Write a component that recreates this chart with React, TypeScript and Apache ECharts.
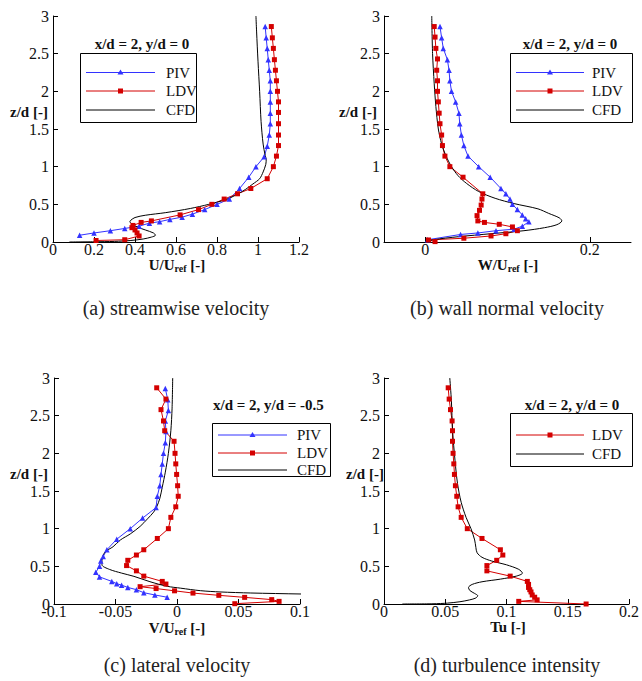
import React, { useEffect, useRef } from 'react';
import * as echarts from 'echarts';

const FONT = "'Liberation Serif', 'Times New Roman', Times, serif";
const BLUE = '#3333ff';
const RED = '#d40000';

// Panel (a) streamwise velocity  (x = U/Uref, z = z/d)
const aPivX = [0.13, 0.20, 0.28, 0.35, 0.42, 0.47, 0.52, 0.57, 0.63, 0.68, 0.74, 0.80, 0.86, 0.91, 0.955, 0.99, 1.03, 1.045, 1.055, 1.06, 1.06, 1.06, 1.06, 1.06, 1.055, 1.05, 1.045, 1.04, 1.035];
const aPivZ = [0.09, 0.12, 0.15, 0.18, 0.21, 0.25, 0.27, 0.30, 0.33, 0.37, 0.43, 0.50, 0.57, 0.71, 0.86, 1.0, 1.13, 1.27, 1.42, 1.57, 1.71, 1.86, 2.0, 2.14, 2.28, 2.42, 2.57, 2.71, 2.86];
const aLdvX = [0.21, 0.35, 0.42, 0.41, 0.40, 0.385, 0.39, 0.43, 0.48, 0.62, 0.71, 0.775, 0.835, 0.90, 0.965, 1.045, 1.075, 1.09, 1.10, 1.10, 1.10, 1.10, 1.10, 1.095, 1.09, 1.085, 1.08, 1.075, 1.07, 1.065];
const aLdvZ = [0.02, 0.03, 0.08, 0.12, 0.16, 0.19, 0.22, 0.26, 0.28, 0.36, 0.43, 0.50, 0.57, 0.64, 0.71, 0.84, 1.0, 1.14, 1.28, 1.42, 1.57, 1.72, 1.86, 2.0, 2.14, 2.28, 2.42, 2.57, 2.71, 2.86];
const aCfdX = [0.08, 0.2, 0.3, 0.38, 0.44, 0.48, 0.50, 0.49, 0.45, 0.41, 0.385, 0.375, 0.38, 0.40, 0.45, 0.55, 0.67, 0.76, 0.84, 0.89, 0.94, 0.975, 1.008, 1.025, 1.038, 1.04, 1.035, 1.025, 1.015, 1.008, 1.0, 0.993, 0.99];
const aCfdZ = [0.0, 0.003, 0.008, 0.02, 0.04, 0.065, 0.09, 0.12, 0.16, 0.2, 0.24, 0.27, 0.29, 0.325, 0.355, 0.39, 0.445, 0.5, 0.56, 0.62, 0.7, 0.77, 0.84, 0.93, 1.03, 1.1, 1.15, 1.3, 1.6, 2.0, 2.4, 2.8, 3.0];

// Panel (b) wall normal velocity (x = W/Uref)
const bPivX = [0.003, 0.043, 0.064, 0.086, 0.108, 0.118, 0.126, 0.122, 0.118, 0.112, 0.106, 0.103, 0.098, 0.092, 0.079, 0.065, 0.052, 0.047, 0.044, 0.042, 0.041, 0.037, 0.032, 0.030, 0.029, 0.027, 0.022, 0.020, 0.018];
const bPivZ = [0.03, 0.10, 0.12, 0.15, 0.17, 0.21, 0.27, 0.31, 0.36, 0.43, 0.50, 0.57, 0.64, 0.71, 0.86, 1.0, 1.14, 1.28, 1.42, 1.57, 1.71, 1.86, 2.0, 2.14, 2.28, 2.42, 2.57, 2.71, 2.86];
const bLdvX = [0.012, 0.004, 0.047, 0.08, 0.098, 0.112, 0.106, 0.09, 0.072, 0.064, 0.063, 0.066, 0.068, 0.069, 0.070, 0.046, 0.030, 0.024, 0.021, 0.020, 0.018, 0.017, 0.016, 0.015, 0.015, 0.014, 0.015, 0.013, 0.012, 0.011];
const bLdvZ = [0.005, 0.027, 0.05, 0.08, 0.11, 0.15, 0.20, 0.235, 0.26, 0.28, 0.35, 0.42, 0.49, 0.57, 0.64, 0.86, 1.0, 1.14, 1.28, 1.42, 1.57, 1.71, 1.86, 2.0, 2.14, 2.28, 2.43, 2.57, 2.72, 2.86];
const bCfdX = [0.0, 0.01, 0.04, 0.08, 0.12, 0.145, 0.16, 0.166, 0.163, 0.15, 0.137, 0.108, 0.085, 0.065, 0.05, 0.04, 0.032, 0.025, 0.02, 0.016, 0.013, 0.011, 0.009, 0.008];
const bCfdZ = [0.0, 0.03, 0.07, 0.11, 0.15, 0.19, 0.23, 0.28, 0.32, 0.38, 0.44, 0.51, 0.58, 0.67, 0.78, 0.88, 1.0, 1.15, 1.3, 1.5, 1.8, 2.1, 2.5, 3.0];

// Panel (c) lateral velocity (x = V/Uref)
const cPivX = [-0.008, -0.018, -0.027, -0.033, -0.04, -0.045, -0.049, -0.053, -0.063, -0.066, -0.063, -0.062, -0.06, -0.057, -0.049, -0.038, -0.028, -0.017, -0.016, -0.014, -0.013, -0.012, -0.011, -0.0095, -0.009, -0.0095, -0.007, -0.0075, -0.0095];
const cPivZ = [0.09, 0.12, 0.15, 0.19, 0.22, 0.25, 0.27, 0.30, 0.36, 0.42, 0.50, 0.57, 0.63, 0.72, 0.86, 1.0, 1.14, 1.28, 1.43, 1.57, 1.72, 1.86, 2.0, 2.14, 2.29, 2.43, 2.57, 2.71, 2.86];
const cLdvX = [0.047, 0.083, 0.077, 0.055, 0.034, 0.013, -0.002, -0.017, -0.03, -0.009, -0.012, -0.027, -0.033, -0.041, -0.040, -0.033, -0.027, -0.016, -0.007, -0.005, -0.001, 0.001, 0.0005, -0.0003, -0.001, -0.0016, -0.0024, -0.010, -0.011, -0.013, -0.009, -0.0165];
const cLdvZ = [0.004, 0.035, 0.058, 0.088, 0.115, 0.145, 0.175, 0.205, 0.23, 0.265, 0.30, 0.37, 0.44, 0.51, 0.58, 0.65, 0.72, 0.87, 1.0, 1.15, 1.29, 1.43, 1.57, 1.72, 1.86, 2.0, 2.16, 2.3, 2.43, 2.58, 2.72, 2.87];
const cCfdX = [0.12, 0.1, 0.06, 0.035, 0.019, 0.003, -0.008, -0.022, -0.035, -0.045, -0.055, -0.061, -0.061, -0.0585, -0.052, -0.046, -0.038, -0.030, -0.024, -0.019, -0.0165, -0.014, -0.012, -0.0095, -0.007, -0.005, -0.004, -0.0035];
const cCfdZ = [0.128, 0.133, 0.146, 0.16, 0.177, 0.21, 0.235, 0.296, 0.367, 0.41, 0.46, 0.52, 0.58, 0.69, 0.76, 0.85, 0.93, 1.03, 1.13, 1.22, 1.29, 1.4, 1.55, 1.75, 2.0, 2.3, 2.6, 3.0];

// Panel (d) turbulence intensity (x = Tu)
const dLdvX = [0.165, 0.11, 0.125, 0.123, 0.121, 0.12, 0.119, 0.118, 0.118, 0.117, 0.103, 0.084, 0.084, 0.092, 0.097, 0.095, 0.080, 0.068, 0.063, 0.0605, 0.0594, 0.0583, 0.0575, 0.057, 0.0564, 0.0559, 0.0559, 0.0556, 0.0543, 0.0532, 0.0524];
const dLdvZ = [0.0, 0.035, 0.055, 0.09, 0.12, 0.16, 0.19, 0.22, 0.26, 0.30, 0.37, 0.44, 0.51, 0.58, 0.65, 0.72, 0.87, 1.0, 1.15, 1.29, 1.43, 1.57, 1.72, 1.86, 2.0, 2.16, 2.3, 2.43, 2.58, 2.72, 2.87];
const dCfdX = [0.015, 0.04, 0.052, 0.062, 0.07, 0.075, 0.0765, 0.074, 0.07, 0.069, 0.072, 0.08, 0.095, 0.108, 0.113, 0.11, 0.1, 0.088, 0.08, 0.076, 0.075, 0.074, 0.071, 0.067, 0.063, 0.06, 0.058, 0.056, 0.055, 0.0537];
const dCfdZ = [0.0, 0.003, 0.012, 0.03, 0.055, 0.08, 0.11, 0.14, 0.18, 0.22, 0.26, 0.295, 0.33, 0.37, 0.41, 0.46, 0.52, 0.57, 0.62, 0.68, 0.75, 0.85, 1.0, 1.15, 1.35, 1.6, 1.9, 2.3, 2.7, 3.0];

const zTicks = [0, 3, 0.5];
const legendNames3 = ['PIV', 'LDV', 'CFD'];
const legendNames2 = ['LDV', 'CFD'];

const zip = (xs: number[], zs: number[]) => xs.map((x, i) => [x, zs[i]]);

const grids = [
  { left: 53, top: 16, width: 246, height: 226 },
  { left: 384, top: 16, width: 247, height: 226 },
  { left: 54, top: 378, width: 246, height: 226 },
  { left: 384, top: 378, width: 247, height: 226 },
];

function xAxis(gridIndex: number, min: number, max: number, interval: number, custom?: number[]) {
  const ax: any = {
    type: 'value', gridIndex, min, max, interval,
    axisLine: { onZero: false, lineStyle: { color: '#000', width: 1 } },
    axisTick: { inside: true, length: 5, lineStyle: { color: '#000' } },
    axisLabel: { fontFamily: FONT, fontSize: 16, lineHeight: 14, color: '#111', margin: 0 },
    splitLine: { show: false },
  };
  if (custom) {
    ax.axisTick.customValues = custom;
    ax.axisLabel.customValues = custom;
  }
  return ax;
}
function yAxis(gridIndex: number) {
  return {
    type: 'value', gridIndex, min: zTicks[0], max: zTicks[1], interval: zTicks[2],
    axisLine: { onZero: false, lineStyle: { color: '#000', width: 1 } },
    axisTick: { inside: true, length: 5, lineStyle: { color: '#000' } },
    axisLabel: { fontFamily: FONT, fontSize: 16, lineHeight: 14, color: '#111', margin: 4 },
    splitLine: { show: false },
  };
}

function piv(i: number, xs: number[], zs: number[]) {
  return {
    type: 'line', name: 'PIV', xAxisIndex: i, yAxisIndex: i, data: zip(xs, zs),
    symbol: 'triangle', symbolSize: 5.5, showSymbol: true, clip: true,
    lineStyle: { color: BLUE, width: 1 }, itemStyle: { color: BLUE },
  };
}
function ldv(i: number, xs: number[], zs: number[]) {
  return {
    type: 'line', name: 'LDV', xAxisIndex: i, yAxisIndex: i, data: zip(xs, zs),
    symbol: 'rect', symbolSize: 5, showSymbol: true, clip: true,
    lineStyle: { color: RED, width: 1 }, itemStyle: { color: RED },
  };
}
function cfd(i: number, xs: number[], zs: number[]) {
  return {
    type: 'line', name: 'CFD', xAxisIndex: i, yAxisIndex: i, data: zip(xs, zs),
    symbol: 'none', showSymbol: false, clip: true, smooth: 0.3,
    lineStyle: { color: '#000', width: 1 }, itemStyle: { color: '#000' },
  };
}

const STYLE: Record<string, { color: string; marker: string }> = {
  PIV: { color: BLUE, marker: 'tri' },
  LDV: { color: RED, marker: 'sq' },
  CFD: { color: '#000', marker: '' },
};

// legend drawn as a boxed key: box rect, then for each name a line sample, marker and label
function legendBox(bx: number, by: number, bw: number, bh: number, names: string[], ys: number[], lx0: number, lx1: number, tx: number) {
  const els: any[] = [
    { type: 'rect', shape: { x: bx + 0.5, y: by + 0.5, width: bw, height: bh }, style: { fill: '#fff', stroke: '#000', lineWidth: 1 }, z: 10 },
  ];
  names.forEach((n, i) => {
    const y = ys[i];
    const st = STYLE[n];
    els.push({ type: 'line', shape: { x1: lx0, y1: y, x2: lx1, y2: y }, style: { stroke: st.color, lineWidth: 1 }, z: 11 });
    const cx = (lx0 + lx1) / 2;
    if (st.marker === 'tri') {
      els.push({ type: 'polygon', shape: { points: [[cx, y - 3], [cx - 3, y + 2], [cx + 3, y + 2]] }, style: { fill: st.color }, z: 12 });
    } else if (st.marker === 'sq') {
      els.push({ type: 'rect', shape: { x: cx - 2.5, y: y - 2.5, width: 5, height: 5 }, style: { fill: st.color }, z: 12 });
    }
    els.push({ type: 'text', x: tx, y, style: { text: n, align: 'left', verticalAlign: 'middle', fontFamily: FONT, fontSize: 15, fill: '#111' }, z: 12 });
  });
  return els;
}

const boldText = (text: string, x: number, y: number, align = 'left', fontSize = 15) => ({
  type: 'text', x, y, z: 12,
  style: { text, align, verticalAlign: 'middle', fontFamily: FONT, fontWeight: 'bold', fontSize, fill: '#111' },
});
const axisTitle = (main: string, sub: string, x: number, y: number) => ({
  type: 'text', x, y,
  style: {
    text: sub ? `{a|${main}}{s|${sub}}{a| [-]}` : `{a|${main} [-]}`,
    align: 'center', verticalAlign: 'middle',
    rich: {
      a: { fontFamily: FONT, fontWeight: 'bold', fontSize: 15, fill: '#111', lineHeight: 16 },
      s: { fontFamily: FONT, fontWeight: 'bold', fontSize: 10, fill: '#111', lineHeight: 10, verticalAlign: 'bottom' },
    },
  },
});
const caption = (text: string, x: number, y: number) => ({
  type: 'text', x, y,
  style: { text, align: 'center', verticalAlign: 'middle', fontFamily: FONT, fontSize: 20, fill: '#222' },
});

export default function App() {
  const ref = useRef<HTMLDivElement>(null);
  useEffect(() => {
    if (!ref.current) return;
    const chart = echarts.init(ref.current, undefined, { renderer: 'svg' });
    chart.setOption({
      animation: false,
      backgroundColor: '#fff',
      grid: grids,
      xAxis: [
        xAxis(0, 0, 1.2, 0.2),
        xAxis(1, -0.05, 0.25, 0.05, [0, 0.2]),
        xAxis(2, -0.1, 0.1, 0.05),
        xAxis(3, 0, 0.2, 0.05),
      ],
      yAxis: [yAxis(0), yAxis(1), yAxis(2), yAxis(3)],
      series: [
        piv(0, aPivX, aPivZ), ldv(0, aLdvX, aLdvZ), cfd(0, aCfdX, aCfdZ),
        piv(1, bPivX, bPivZ), ldv(1, bLdvX, bLdvZ), cfd(1, bCfdX, bCfdZ),
        piv(2, cPivX, cPivZ), ldv(2, cLdvX, cLdvZ), cfd(2, cCfdX, cCfdZ),
        ldv(3, dLdvX, dLdvZ), cfd(3, dCfdX, dCfdZ),
      ],
      graphic: [
        ...legendBox(80, 53, 116, 69, legendNames3, [72.5, 91, 110], 86, 155, 166),
        ...legendBox(510, 53, 122, 69, legendNames3, [72.5, 91, 110], 516, 584, 592),
        ...legendBox(212, 423, 118, 53, legendNames3, [435, 453, 470], 218, 287, 297),
        ...legendBox(510, 413, 122, 53, legendNames2, [435, 454], 516, 584, 592),
        boldText('x/d = 2, y/d = 0', 142, 44, 'center'),
        boldText('x/d = 2, y/d = 0', 570, 44, 'center'),
        boldText('x/d = 2, y/d = -0.5', 213, 405, 'left'),
        boldText('x/d = 2, y/d = 0', 572, 405, 'center'),
        boldText('z/d [-]', 10, 112),
        boldText('z/d [-]', 339, 112),
        boldText('z/d [-]', 10, 474),
        boldText('z/d [-]', 346, 474),
        axisTitle('U/U', 'ref', 177, 265),
        axisTitle('W/U', 'ref', 508, 265),
        axisTitle('V/U', 'ref', 177, 628),
        axisTitle('Tu', '', 508, 627),
        caption('(a) streamwise velocity', 176, 308),
        caption('(b) wall normal velocity', 507, 308),
        caption('(c) lateral velocity', 177, 665),
        caption('(d) turbulence intensity', 507, 665),
      ],
    });
    return () => chart.dispose();
  }, []);
  return <div ref={ref} style={{ position: 'fixed', left: 0, top: 0, width: 642, height: 681, background: '#fff' }} />;
}
